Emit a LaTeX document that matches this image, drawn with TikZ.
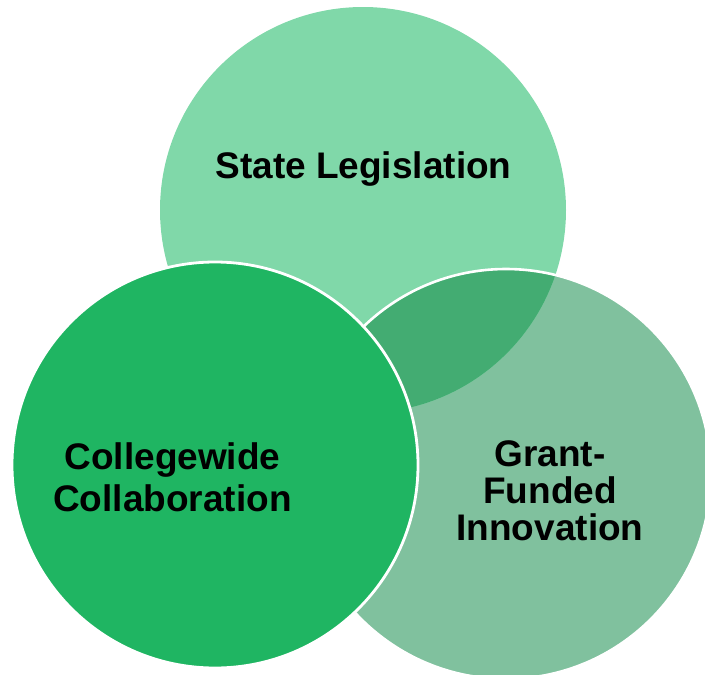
\documentclass[tikz,border=0pt]{standalone}
\usepackage{fontspec}
\setmainfont{Liberation Sans}
\definecolor{topc}{RGB}{128,216,169}
\definecolor{rightc}{RGB}{128,193,158}
\definecolor{overc}{RGB}{67,172,114}
\definecolor{leftc}{RGB}{31,181,98}
\tikzset{
  lbl/.style={font=\fontsize{37}{42}\selectfont\bfseries, text=black, align=center, inner sep=0pt},
}
\begin{document}
\begin{tikzpicture}[x=1pt,y=-1pt]
\useasboundingbox (0,0) rectangle (705,675);
\begin{scope}
\clip (0,0) rectangle (705,675);
% right circle
\fill[rightc] (506,474) circle[radius=205];
% top circle
\fill[topc] (363,210) circle[radius=203];
% overlap
\begin{scope}
\clip (506,474) circle[radius=205];
\fill[overc] (363,210) circle[radius=203];
\end{scope}
\draw[white, line width=2.6pt] (506,474) circle[radius=205];
% left circle
\fill[leftc] (215,465) circle[radius=203];
\draw[white, line width=2.8pt] (215,465) circle[radius=203];
\end{scope}
\node[lbl, anchor=base] (state) at (363.5,178) {State Legislation};
\node[lbl, anchor=base] (coll) at (172.5,511) {Collegewide\\Collaboration};
\node[lbl, anchor=base, font=\fontsize{37}{36.7}\selectfont\bfseries] (grant) at (550,540) {Grant-\\Funded\\Innovation};
\end{tikzpicture}
\end{document}
